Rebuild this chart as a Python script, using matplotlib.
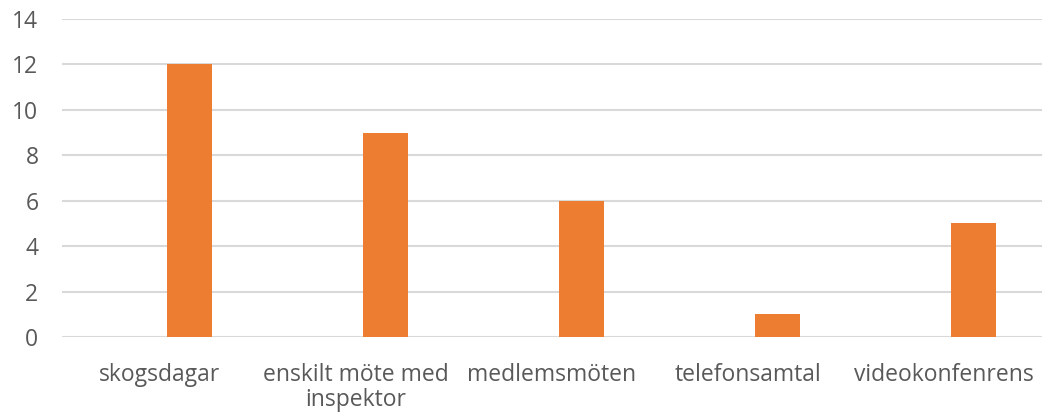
import matplotlib
matplotlib.use("Agg")
import matplotlib.pyplot as plt
import numpy as np

categories = ["skogsdagar", "enskilt möte med\ninspektor", "medlemsmöten", "telefonsamtal", "videokonfenrens"]
values = [12, 9, 6, 1, 5]
yticks = [0, 2, 4, 6, 8, 10, 12, 14]

plt.rcParams['font.family'] = ['Open Sans', 'DejaVu Sans']

fig = plt.figure(figsize=(10.48, 4.19), dpi=100)
ax = fig.add_axes([62/1048, 1-337/419, 980/1048, 318/419])

x = np.arange(len(categories))
ax.bar(x + 0.15, values, width=0.23, color="#ED7D31", zorder=3)

ax.set_xlim(-0.5, len(categories) - 0.5)
ax.set_ylim(0, 14)
ax.set_yticks(yticks)
ax.set_xticks(x)
ax.set_xticklabels(categories, ha="center", linespacing=1.05)
ax.yaxis.grid(True, color="#d9d9d9", linewidth=1.5, zorder=0)
ax.xaxis.grid(False)
for s in ax.spines.values():
    s.set_visible(False)
ax.tick_params(axis="both", length=0, labelsize=16.5, colors="#595959")
ax.tick_params(axis="x", pad=19)
ax.tick_params(axis="y", pad=17)
for lbl in ax.get_yticklabels():
    lbl.set_horizontalalignment("right")

fig.savefig("out.png", dpi=100)
